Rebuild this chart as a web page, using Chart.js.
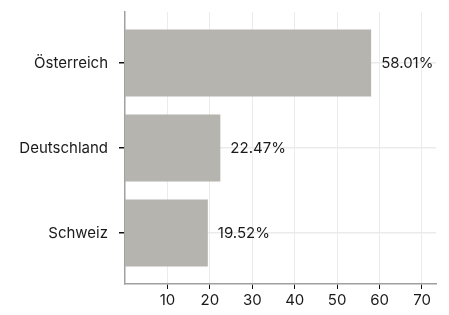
<!DOCTYPE html>
<html>
<head>
<meta charset="utf-8">
<script src="https://cdn.jsdelivr.net/npm/chart.js@4/dist/chart.umd.min.js"></script>
<style>
  html,body{margin:0;padding:0;background:#fff;}
  #wrap{width:449px;height:315px;}
</style>
</head>
<body>
<div id="wrap"><canvas id="c" width="449" height="315"></canvas></div>
<script>
const countries = ['Österreich', 'Deutschland', 'Schweiz'];
const shares = [58.01, 22.47, 19.52];
const xTicks = [10, 20, 30, 40, 50, 60, 70];

const FONT = 'Inter, "Noto Sans", sans-serif';

const labelPlugin = {
  id: 'barLabels',
  afterDatasetsDraw(chart){
    const ctx = chart.ctx;
    const meta = chart.getDatasetMeta(0);
    ctx.save();
    ctx.font = '15px ' + FONT;
    ctx.fillStyle = '#1a1a1a';
    ctx.textAlign = 'left';
    ctx.textBaseline = 'middle';
    meta.data.forEach((bar, i) => {
      ctx.fillText(shares[i].toFixed(2) + '%', bar.x + 10, bar.y);
    });
    ctx.restore();
  }
};

new Chart(document.getElementById('c'), {
  type: 'bar',
  data: {
    datasets: [{
      data: shares.map((v, i) => ({x: v, y: i})),
      backgroundColor: '#b5b4af',
      borderWidth: 0,
      categoryPercentage: 0.79,
      barPercentage: 1
    }]
  },
  options: {
    indexAxis: 'y',
    responsive: false,
    animation: false,
    devicePixelRatio: 1,
    layout: { padding: { top: 12, right: 13, left: 0, bottom: 0 } },
    plugins: { legend: { display: false }, tooltip: { enabled: false } },
    scales: {
      x: {
        type: 'linear',
        min: 0,
        max: 73.3,
        offset: false,
        afterBuildTicks: (s) => { s.ticks = xTicks.map(v => ({value: v})); },
        afterFit: (s) => { s.height = 31; s.paddingLeft = 0; s.paddingRight = 0; },
        grid: { color: '#ebebeb', tickColor: '#111', tickLength: 5, lineWidth: 1, offset: false },
        border: { color: '#a0a0a0', width: 1.5 },
        ticks: { color: '#1a1a1a', font: { family: FONT, size: 15 }, padding: 2, maxRotation: 0 }
      },
      y: {
        type: 'linear',
        reverse: true,
        min: -0.6,
        max: 2.6,
        offset: false,
        afterBuildTicks: (s) => { s.ticks = countries.map((c, i) => ({value: i})); },
        afterFit: (s) => { s.width = 125; s.paddingTop = 0; s.paddingBottom = 0; },
        grid: { color: '#ebebeb', tickColor: '#111', tickLength: 6, lineWidth: 1.5, offset: false },
        border: { color: '#a0a0a0', width: 1.5 },
        ticks: {
          color: '#1a1a1a',
          font: { family: FONT, size: 15 },
          padding: 11,
          callback: (v) => countries[v] ?? ''
        }
      }
    }
  },
  plugins: [labelPlugin]
});
</script>
</body>
</html>
